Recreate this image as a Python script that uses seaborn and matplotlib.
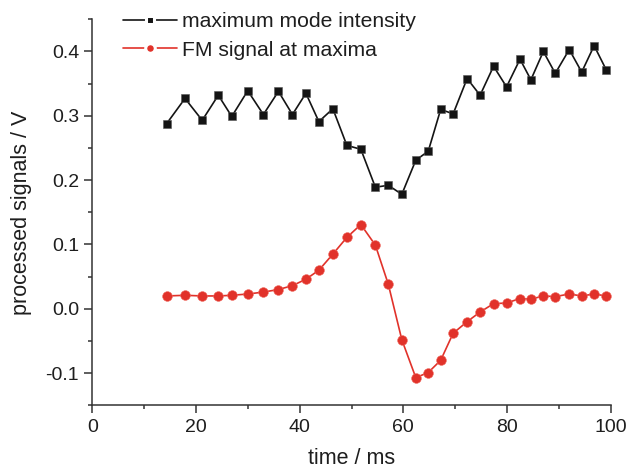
import numpy as np
import pandas as pd
import matplotlib
matplotlib.use("Agg")
import matplotlib.pyplot as plt
from matplotlib.ticker import MultipleLocator, FormatStrFormatter
import seaborn as sns

time_ms = [14.35, 17.88, 21.2, 24.3, 26.9, 29.98, 33.0, 35.9, 38.6, 41.2, 43.7,
           46.4, 49.1, 51.8, 54.6, 57.1, 59.7, 62.4, 64.8, 67.2, 69.6, 72.3,
           74.8, 77.4, 79.9, 82.5, 84.6, 87.0, 89.3, 92.0, 94.4, 96.8, 99.1]
mode_intensity = [0.288, 0.327, 0.293, 0.332, 0.299, 0.339, 0.302, 0.338, 0.302,
                  0.335, 0.291, 0.311, 0.254, 0.248, 0.189, 0.192, 0.178, 0.231,
                  0.245, 0.310, 0.303, 0.358, 0.332, 0.377, 0.345, 0.388, 0.356,
                  0.400, 0.366, 0.403, 0.368, 0.409, 0.372]
fm_signal = [0.020, 0.021, 0.020, 0.020, 0.021, 0.023, 0.026, 0.030, 0.036, 0.046,
             0.060, 0.085, 0.111, 0.131, 0.099, 0.038, -0.048, -0.107, -0.099,
             -0.080, -0.038, -0.020, -0.005, 0.008, 0.009, 0.016, 0.015, 0.020,
             0.019, 0.023, 0.020, 0.023, 0.020]
series_labels = ["maximum mode intensity", "FM signal at maxima"]
x_label = "time / ms"
y_label = "processed signals / V"

sns.set_style("ticks")
plt.rcParams["font.family"] = ["Liberation Sans", "DejaVu Sans"]
plt.rcParams["axes.unicode_minus"] = False

df = pd.DataFrame({"time": time_ms, "mode": mode_intensity, "fm": fm_signal})

fig = plt.figure(figsize=(6.28, 4.69), dpi=100)
ax = fig.add_axes([0.147, 0.1358, 0.8255, 0.823])

BLACK = "#141414"
RED = "#E1322A"
TXT = "#1e1e1e"
sns.lineplot(data=df, x="time", y="mode", ax=ax, color=BLACK, lw=1.2,
             marker="s", markersize=6, markeredgecolor="#555555", markeredgewidth=0.4,
             label=series_labels[0])
sns.lineplot(data=df, x="time", y="fm", ax=ax, color=RED, lw=1.2,
             marker="o", markersize=7, markeredgecolor="#F06A60", markeredgewidth=0.4,
             label=series_labels[1])

ax.set_xlim(0, 100)
ax.set_ylim(-0.15, 0.45)
ax.xaxis.set_major_locator(MultipleLocator(20))
ax.xaxis.set_minor_locator(MultipleLocator(10))
ax.yaxis.set_major_locator(MultipleLocator(0.1))
ax.yaxis.set_minor_locator(MultipleLocator(0.05))
ax.yaxis.set_major_formatter(FormatStrFormatter("%.1f"))

spine_c = "#333333"
for s in ["left", "bottom"]:
    ax.spines[s].set_linewidth(1.1)
    ax.spines[s].set_color(spine_c)
sns.despine(ax=ax)
ax.tick_params(which="major", direction="out", length=5.5, width=1.1, color=spine_c,
               labelsize=14, labelcolor=TXT, pad=4)
ax.tick_params(which="minor", direction="out", length=3, width=1.1, color=spine_c)

ax.set_xlabel(x_label, fontsize=15.5, color=TXT, labelpad=9)
ax.set_ylabel(y_label, fontsize=15.5, color=TXT, labelpad=10)

leg = ax.legend(loc="upper left", bbox_to_anchor=(0.0586, 1.019), frameon=False,
                fontsize=15.2, handlelength=2.55, handletextpad=0.26,
                labelspacing=0.46, borderaxespad=0, borderpad=0)
for t in leg.get_texts():
    t.set_color(TXT)
hs = leg.legend_handles
hs[0].set_markersize(5.8)
hs[1].set_markersize(6.9)
for h in hs:
    h.set_markeredgecolor("white")
    h.set_markeredgewidth(2.2)

fig.savefig("out.png", dpi=100)
